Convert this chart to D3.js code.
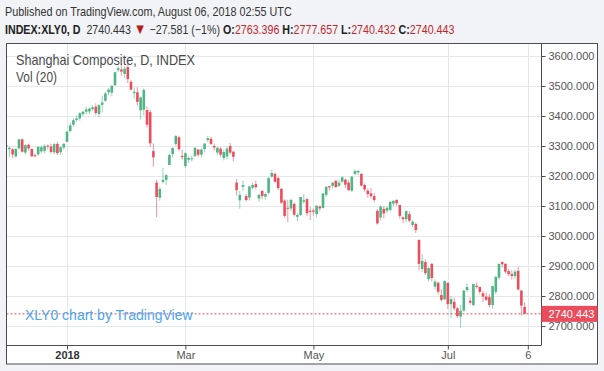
<!DOCTYPE html>
<html>
<head>
<meta charset="utf-8">
<script src="https://cdn.jsdelivr.net/npm/d3@7"></script>
<style>
  html, body { margin: 0; padding: 0; background: #f1f3f6; }
  svg { display: block; }
</style>
</head>
<body>
<svg id="chart" width="604" height="371"></svg>
<script>
// daily sessions, Dec 2017 - Aug 2018
const dates = [
  "2017-12-05","2017-12-06","2017-12-07","2017-12-08","2017-12-11","2017-12-12","2017-12-13","2017-12-14","2017-12-15","2017-12-18",
  "2017-12-19","2017-12-20","2017-12-21","2017-12-22","2017-12-25","2017-12-26","2017-12-27","2017-12-28","2017-12-29",
  "2018-01-02","2018-01-03","2018-01-04","2018-01-05","2018-01-08","2018-01-09","2018-01-10","2018-01-11","2018-01-12","2018-01-15",
  "2018-01-16","2018-01-17","2018-01-18","2018-01-19","2018-01-22","2018-01-23","2018-01-24","2018-01-25","2018-01-26","2018-01-29",
  "2018-01-30","2018-01-31",
  "2018-02-01","2018-02-02","2018-02-05","2018-02-06","2018-02-07","2018-02-08","2018-02-09","2018-02-12","2018-02-13","2018-02-14",
  "2018-02-22","2018-02-23","2018-02-26","2018-02-27","2018-02-28",
  "2018-03-01","2018-03-02","2018-03-05","2018-03-06","2018-03-07","2018-03-08","2018-03-09","2018-03-12","2018-03-13","2018-03-14",
  "2018-03-15","2018-03-16","2018-03-19","2018-03-20","2018-03-21","2018-03-22","2018-03-23","2018-03-26","2018-03-27","2018-03-28",
  "2018-03-29","2018-03-30",
  "2018-04-02","2018-04-03","2018-04-04","2018-04-09","2018-04-10","2018-04-11","2018-04-12","2018-04-13","2018-04-16","2018-04-17",
  "2018-04-18","2018-04-19","2018-04-20","2018-04-23","2018-04-24","2018-04-25","2018-04-26","2018-04-27",
  "2018-05-02","2018-05-03","2018-05-04","2018-05-07","2018-05-08","2018-05-09","2018-05-10","2018-05-11","2018-05-14","2018-05-15",
  "2018-05-16","2018-05-17","2018-05-18","2018-05-21","2018-05-22","2018-05-23","2018-05-24","2018-05-25","2018-05-28","2018-05-29",
  "2018-05-30","2018-05-31",
  "2018-06-01","2018-06-04","2018-06-05","2018-06-06","2018-06-07","2018-06-08","2018-06-11","2018-06-12","2018-06-13","2018-06-14",
  "2018-06-15","2018-06-19","2018-06-20","2018-06-21","2018-06-22","2018-06-25","2018-06-26","2018-06-27","2018-06-28","2018-06-29",
  "2018-07-02","2018-07-03","2018-07-04","2018-07-05","2018-07-06","2018-07-09","2018-07-10","2018-07-11","2018-07-12","2018-07-13",
  "2018-07-16","2018-07-17","2018-07-18","2018-07-19","2018-07-20","2018-07-23","2018-07-24","2018-07-25","2018-07-26","2018-07-27",
  "2018-07-30","2018-07-31",
  "2018-08-01","2018-08-02","2018-08-03"
]

const open = [
  3298,3289,3289,3265,3292,3322,3278,3304,3290,3269,3272,3282,3284,3301,3298,3279,3307,3279,3295,
  3314,3350,3371,3387,3392,3406,3414,3415,3423,3431,3407,3437,3451,3479,3478,3503,3553,3555,3540,3563,3514,3476,
  3479,3419,3421,3420,3413,3283,3178,3128,3180,3187,3237,3273,3307,3329,3267,
  3233,3254,3256,3267,3288,3271,3290,3320,3324,3300,3278,3291,3260,3265,3300,3281,3178,3119,3164,3133,3128,3161,
  3173,3125,3150,3131,3144,3198,3207,3193,3157,3118,3094,3092,3107,3064,3070,3114,3123,3084,
  3085,3073,3098,3094,3137,3166,3167,3184,3167,3181,3188,3178,3151,3207,3212,3207,3170,3151,3142,3133,3084,3062,
  3090,3084,3087,3108,3120,3103,3062,3056,3073,3037,3040,2987,2890,2913,2856,2907,2831,2844,2803,2789,
  2844,2773,2781,2759,2731,2751,2820,2784,2770,2834,2830,2809,2798,2796,2770,2814,2861,2913,2907,2883,2873,2867,
  2884,2818,2763.396
]
const high = [
  3310,3300,3292,3293,3324,3325,3306,3308,3292,3275,3300,3302,3306,3305,3308,3310,3313,3300,3310,
  3350,3379,3392,3402,3413,3417,3430,3427,3436,3442,3438,3468,3481,3494,3502,3548,3566,3573,3566,3587,3520,3495,
  3496,3465,3492,3432,3420,3309,3187,3165,3227,3205,3275,3296,3337,3334,3287,
  3278,3266,3269,3296,3290,3293,3310,3334,3330,3308,3297,3296,3288,3297,3310,3283,3190,3150,3185,3140,3167,3178,
  3185,3140,3153,3145,3197,3220,3212,3198,3160,3122,3121,3125,3112,3076,3131,3140,3126,3097,
  3092,3103,3102,3143,3167,3168,3180,3187,3188,3198,3192,3185,3199,3222,3220,3210,3175,3158,3160,3144,3090,3102,
  3100,3098,3116,3120,3123,3106,3065,3085,3082,3052,3045,2988,2940,2922,2896,2910,2855,2848,2823,2852,
  2845,2800,2795,2763,2771,2820,2843,2796,2841,2845,2832,2818,2812,2806,2835,2866,2908,2916,2910,2890,2886,2888,
  2897,2821,2777.657
]
const low = [
  3292,3262,3259,3262,3288,3278,3272,3285,3262,3262,3268,3277,3277,3291,3275,3272,3270,3270,3288,
  3314,3345,3365,3380,3384,3400,3405,3406,3417,3402,3395,3412,3446,3469,3467,3500,3546,3534,3526,3510,3485,3458,
  3435,3388,3402,3362,3297,3231,3063,3118,3175,3170,3237,3262,3300,3285,3254,
  3226,3244,3248,3263,3263,3262,3279,3313,3303,3285,3270,3265,3252,3255,3272,3250,3135,3091,3150,3115,3118,3155,
  3155,3114,3122,3121,3138,3193,3177,3152,3107,3061,3046,3082,3065,3050,3068,3107,3066,3053,
  3068,3063,3083,3092,3130,3150,3158,3160,3163,3176,3160,3150,3146,3203,3203,3165,3148,3128,3125,3112,3038,3052,
  3058,3076,3082,3100,3101,3058,3043,3046,3045,3030,3010,2886,2880,2870,2848,2848,2822,2805,2782,2786,
  2757,2727,2751,2727,2694,2748,2813,2771,2766,2825,2806,2780,2784,2762,2758,2806,2855,2895,2875,2867,2855,2858,
  2818,2735,2740.432
]
const close = [
  3304,3294,3272,3290,3322,3281,3303,3292,3266,3268,3297,3296,3300,3298,3280,3306,3276,3296,3307,
  3348,3369,3386,3392,3409,3414,3422,3425,3429,3410,3437,3445,3475,3488,3501,3546,3559,3548,3558,3523,3488,3481,
  3447,3462,3487,3371,3309,3262,3130,3157,3187,3203,3270,3293,3333,3289,3263,
  3276,3260,3259,3294,3271,3288,3308,3326,3307,3295,3294,3271,3280,3291,3278,3264,3153,3137,3170,3120,3165,3170,
  3163,3137,3133,3140,3193,3210,3181,3160,3111,3067,3092,3120,3071,3070,3130,3119,3076,3082,
  3081,3101,3092,3142,3164,3162,3178,3163,3178,3196,3171,3153,3198,3217,3217,3168,3155,3140,3133,3120,3042,3098,
  3075,3094,3114,3117,3109,3067,3056,3083,3051,3048,3020,2907,2917,2876,2893,2860,2848,2814,2787,2850,
  2773,2790,2759,2733,2751,2818,2830,2778,2840,2831,2814,2798,2787,2770,2833,2864,2907,2906,2881,2873,2867,2881,
  2822,2768,2740.443
]

const priceTicks = [2700, 2800, 2900, 3000, 3100, 3200, 3300, 3400, 3500, 3600]
const timeTickDates = ["2018-01-02", "2018-03-01", "2018-05-02", "2018-07-02", "2018-08-06"]
const timeTickLabels = ["2018", "Mar", "May", "Jul", "6"]

const lastPrice = 2740.443
const change = "\u221227.581 (\u22121%)"

const UP = "#4fb584", DOWN = "#eb4d5c"
const FONT = "'Liberation Sans', Arial, sans-serif"

const svg = d3.select("#chart")

// squeeze a text element horizontally so it spans `w` pixels from its x
function fitWidth(sel, x0, w) {
  const n = sel.node().getComputedTextLength()
  sel.attr("transform", `translate(${x0},0) scale(${w / n},1) translate(${-x0},0)`)
}

// frame
const plot = { left: 6.5, top: 43.5, right: 541, bottom: 345 }
const frameRight = 597.5, frameBottom = 364

svg.append("rect")
  .attr("x", 0).attr("y", 0).attr("width", 604).attr("height", 371)
  .attr("fill", "#f1f3f6")
svg.append("rect")
  .attr("x", plot.left).attr("y", plot.top)
  .attr("width", frameRight - plot.left).attr("height", frameBottom - plot.top)
  .attr("fill", "#fff")

// scales: one slot per session, next session after the last one is Aug 6
const idx = d => { const i = dates.indexOf(d); return i < 0 ? dates.length : i }
const x = d3.scaleLinear().domain([0, 163]).range([6.2, 527.8])
const y = d3.scaleLinear().domain([2700, 3600]).range([326, 56])

svg.append("clipPath").attr("id", "clip")
  .append("rect")
  .attr("x", plot.left + 0.5).attr("y", plot.top + 0.5)
  .attr("width", plot.right - plot.left - 0.5).attr("height", plot.bottom - plot.top - 0.5)

const grid = svg.append("g").attr("clip-path", "url(#clip)")
grid.selectAll("line.h")
  .data(priceTicks)
  .enter().append("line")
    .attr("class", "h")
    .attr("x1", plot.left).attr("x2", plot.right)
    .attr("y1", d => Math.round(y(d)) + 0.5).attr("y2", d => Math.round(y(d)) + 0.5)
    .attr("stroke", "#e3e8ee")
grid.selectAll("line.v")
  .data(timeTickDates)
  .enter().append("line")
    .attr("class", "v")
    .attr("x1", d => Math.round(x(idx(d))) + 0.5).attr("x2", d => Math.round(x(idx(d))) + 0.5)
    .attr("y1", plot.top).attr("y2", plot.bottom)
    .attr("stroke", "#e3e8ee")

// candles
const bars = dates.map((d, i) => ({ i, o: open[i], h: high[i], l: low[i], c: close[i] }))
const candles = svg.append("g").attr("clip-path", "url(#clip)")
const bw = 2.6

candles.selectAll("line.wick")
  .data(bars)
  .enter().append("line")
    .attr("class", "wick")
    .attr("x1", d => x(d.i)).attr("x2", d => x(d.i))
    .attr("y1", d => y(d.h)).attr("y2", d => y(d.l))
    .attr("stroke", d => d.c >= d.o ? UP : DOWN)
    .attr("stroke-opacity", 0.6)
    .attr("stroke-width", 1)

candles.selectAll("rect.body")
  .data(bars)
  .enter().append("rect")
    .attr("class", "body")
    .attr("x", d => x(d.i) - bw / 2)
    .attr("width", bw)
    .attr("y", d => y(Math.max(d.o, d.c)))
    .attr("height", d => Math.max(1, Math.abs(y(d.o) - y(d.c))))
    .attr("fill", d => d.c >= d.o ? UP : DOWN)

// last price line
svg.append("line")
  .attr("x1", plot.left).attr("x2", plot.right)
  .attr("y1", y(lastPrice)).attr("y2", y(lastPrice))
  .attr("stroke", DOWN)
  .attr("stroke-dasharray", "2,2")

// axes
svg.append("line")
  .attr("x1", plot.right + 0.5).attr("x2", plot.right + 0.5)
  .attr("y1", plot.top).attr("y2", plot.bottom)
  .attr("stroke", "#4d4d4d")
svg.append("line")
  .attr("x1", plot.left).attr("x2", plot.right + 0.5)
  .attr("y1", plot.bottom + 0.5).attr("y2", plot.bottom + 0.5)
  .attr("stroke", "#4d4d4d")
svg.append("rect")
  .attr("x", plot.left).attr("y", plot.top)
  .attr("width", frameRight - plot.left).attr("height", frameBottom - plot.top)
  .attr("fill", "none")
  .attr("stroke", "#4d4d4d")

const yAxis = svg.append("g")
  .attr("transform", `translate(${plot.right + 0.5},0)`)
  .call(d3.axisRight(y).tickValues(priceTicks).tickSize(4).tickPadding(3).tickFormat(d3.format(".3f")))
yAxis.select(".domain").remove()
yAxis.selectAll(".tick line").attr("stroke", "#4d4d4d")
yAxis.selectAll(".tick text")
  .attr("fill", "#555")
  .style("font", `11px ${FONT}`)

const xAxis = svg.append("g")
  .attr("transform", `translate(0,${plot.bottom + 0.5})`)
  .call(d3.axisBottom(x)
    .tickValues(timeTickDates.map(idx))
    .tickSize(4).tickPadding(2)
    .tickFormat((d, i) => timeTickLabels[i]))
xAxis.select(".domain").remove()
xAxis.selectAll(".tick line").attr("stroke", "#4d4d4d")
xAxis.selectAll(".tick text")
  .attr("fill", (d, i) => i === 0 ? "#333" : "#555")
  .attr("font-weight", (d, i) => i === 0 ? "bold" : "normal")
  .style("font", null)
  .style("font-family", FONT)
  .style("font-size", "11px")

// last price tag
svg.append("rect")
  .attr("x", plot.right + 0.5).attr("y", y(lastPrice) - 8)
  .attr("width", frameRight - plot.right - 0.5).attr("height", 16)
  .attr("fill", DOWN)
svg.append("text")
  .attr("x", plot.right + 7.5).attr("y", y(lastPrice))
  .attr("dy", "0.35em")
  .attr("fill", "#fff")
  .style("font", `11px ${FONT}`)
  .text(d3.format(".3f")(lastPrice))

// legend and watermark
const title = svg.append("text")
  .attr("x", 16).attr("y", 65.5)
  .attr("fill", "#4a4a4a")
  .style("font", `14px ${FONT}`)
  .text("Shanghai Composite, D, INDEX")
fitWidth(title, 16, 179)
const vol = svg.append("text")
  .attr("x", 16).attr("y", 82)
  .attr("fill", "#4a4a4a")
  .style("font", `14px ${FONT}`)
  .text("Vol (20)")
fitWidth(vol, 16, 41)
svg.append("text")
  .attr("x", 25).attr("y", 320)
  .attr("fill", "#4aa6ee")
  .style("font", `14px ${FONT}`)
  .text("XLY0 chart by TradingView")

// header
const pub = svg.append("text")
  .attr("x", 5).attr("y", 16)
  .attr("fill", "#333")
  .style("font", `12.5px ${FONT}`)
  .text("Published on TradingView.com, August 06, 2018 02:55 UTC")
fitWidth(pub, 5, 287)

const head = svg.append("text")
  .attr("x", 5).attr("y", 34)
  .attr("fill", "#333")
  .style("font", `12.5px ${FONT}`)
head.append("tspan").attr("font-weight", "bold").attr("fill", "#222").text("INDEX:XLY0, D")
head.append("tspan").text("\u00a0 " + d3.format(".3f")(lastPrice) + " ")
head.append("tspan").attr("fill", "#b71c1c").style("font-size", "15px").text("\u25bc")
head.append("tspan").text(" " + change + " ")
const ohlcLabels = ["O:", "H:", "L:", "C:"]
const ohlcValues = [open[open.length - 1], high[high.length - 1], low[low.length - 1], close[close.length - 1]]
ohlcLabels.forEach((lab, i) => {
  head.append("tspan").attr("font-weight", "bold").attr("fill", "#222").text(lab)
  head.append("tspan").attr("fill", "#c0282d").text(d3.format(".3f")(ohlcValues[i]) + (i < 3 ? " " : ""))
})
fitWidth(head, 5, 450)
</script>
</body>
</html>
